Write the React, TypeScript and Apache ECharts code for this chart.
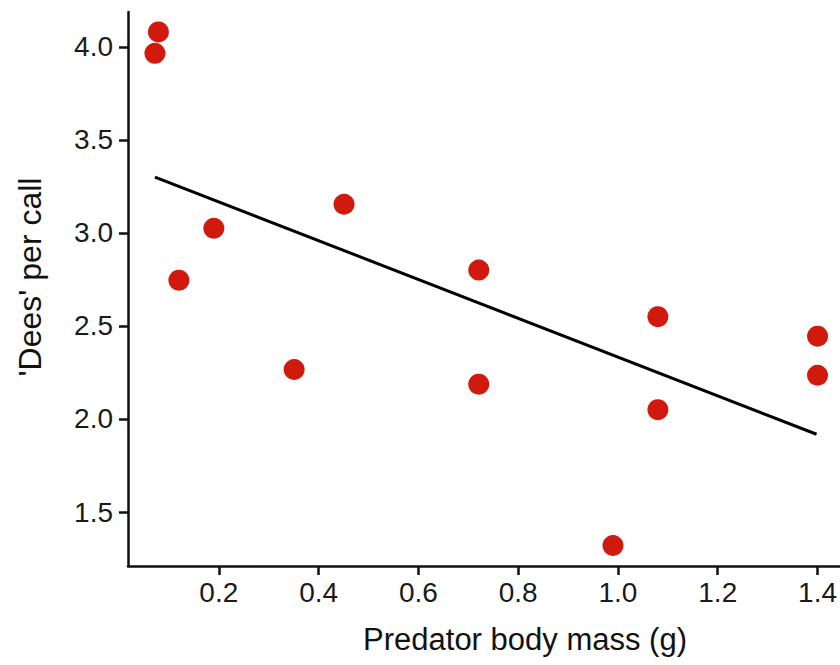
import React, { useEffect, useRef } from "react";
import * as echarts from "echarts";

const massG = [0.079, 0.072, 0.12, 0.19, 0.351, 0.451, 0.721, 0.721, 0.99, 1.08, 1.08, 1.4, 1.4];
const deesPerCall = [4.08, 3.965, 2.746, 3.025, 2.266, 3.154, 2.8, 2.187, 1.32, 2.55, 2.05, 2.445, 2.235];
const fitX = [0.072, 1.398];
const fitY = [3.3, 1.918];
const xTicks = [0.2, 0.4, 0.6, 0.8, 1.0, 1.2, 1.4];
const yTicks = [1.5, 2.0, 2.5, 3.0, 3.5, 4.0];
const xTitle = "Predator body mass (g)";
const yTitle = "'Dees' per call";

const FONT = "'Liberation Sans', Arial, Helvetica, sans-serif";

export default function App() {
  const ref = useRef<HTMLDivElement>(null);
  useEffect(() => {
    if (!ref.current) return;
    const chart = echarts.init(ref.current, null, { renderer: "svg" });
    const axisCommon = {
      axisLine: { show: true, lineStyle: { color: "#111", width: 2.5 } },
      axisTick: { show: true, length: 9, lineStyle: { color: "#111", width: 2.5 } },
      splitLine: { show: false },
    };
    chart.setOption({
      animation: false,
      backgroundColor: "#fff",
      grid: { left: 128, top: 12, right: 0, bottom: 99 },
      xAxis: {
        type: "value",
        min: 0.018,
        max: 1.445,
        ...axisCommon,
        axisTick: { ...axisCommon.axisTick, customValues: xTicks },
        axisLabel: {
          customValues: xTicks,
          formatter: (v: number) => v.toFixed(1),
          fontSize: 28,
          fontFamily: FONT,
          color: "#1a1a1a",
          margin: 12,
        },
      },
      yAxis: {
        type: "value",
        min: 1.21,
        max: 4.187,
        ...axisCommon,
        axisTick: { ...axisCommon.axisTick, customValues: yTicks },
        axisLabel: {
          customValues: yTicks,
          formatter: (v: number) => v.toFixed(1),
          fontSize: 28,
          fontFamily: FONT,
          color: "#1a1a1a",
          margin: 15,
        },
      },
      graphic: [
        {
          type: "text",
          x: 525,
          y: 655,
          style: {
            text: xTitle,
            fontSize: 31,
            fontFamily: FONT,
            fill: "#111",
            textAlign: "center",
            textVerticalAlign: "bottom",
          },
        },
        {
          type: "text",
          x: 46,
          y: 277,
          rotation: Math.PI / 2,
          style: {
            text: yTitle,
            fontSize: 32,
            fontFamily: FONT,
            fill: "#111",
            textAlign: "center",
            textVerticalAlign: "bottom",
          },
        },
      ],
      series: [
        {
          type: "line",
          data: fitX.map((x, i) => [x, fitY[i]]),
          symbol: "none",
          lineStyle: { color: "#000", width: 3 },
          z: 2,
        },
        {
          type: "scatter",
          data: massG.map((x, i) => [x, deesPerCall[i]]),
          symbolSize: 21,
          itemStyle: { color: "#d01a0e", opacity: 1 },
          z: 3,
        },
      ],
    });
    return () => chart.dispose();
  }, []);
  return (
    <div
      ref={ref}
      style={{ position: "absolute", left: 0, top: 0, width: 840, height: 665 }}
    />
  );
}
